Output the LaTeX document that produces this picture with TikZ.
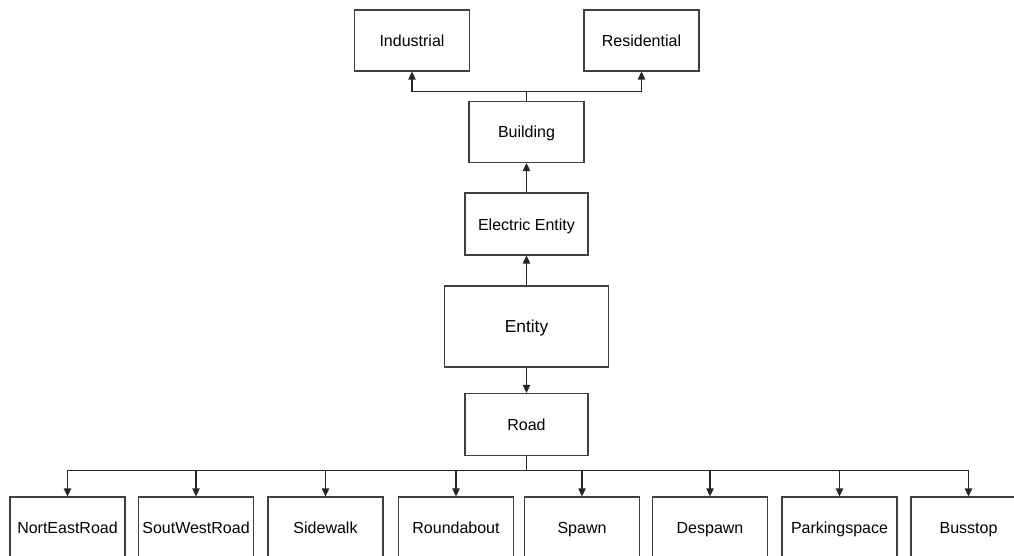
\documentclass[tikz,border=0pt]{standalone}
\usepackage{fontspec}
\setmainfont{Liberation Sans}
\usetikzlibrary{arrows.meta}

\begin{document}
\begin{tikzpicture}[x=0.75pt,y=-0.75pt,
    box/.style={draw=black!75,line width=0.9pt,fill=white,inner sep=0pt,text height=9pt,text depth=0pt,minimum width=86.25pt,minimum height=45.75pt,font=\fontsize{12}{14}\selectfont},
    wide/.style={minimum width=92.25pt,minimum height=46.5pt},
    link/.style={draw=black!85,line width=0.9pt,-{Triangle[length=6pt,width=5.6pt]}}]
    \clip (0,0) rectangle (1014,556);
    \node[box] (ind) at (412,40.5) {Industrial};
    \node[box] (res) at (641.5,40.5) {Residential};
    \node[box] (bld) at (526.5,132) {Building};
    \node[box,wide] (ele) at (526.5,224) {Electric Entity};
    \node[box,minimum width=123pt,minimum height=60.75pt,font=\fontsize{13}{15}\selectfont] (ent) at (526.5,326.5) {Entity};
    \node[box,wide] (road) at (526.5,424.5) {Road};
    \node[box] (ner) at (67.5,527.5) {NortEastRoad};
    \node[box] (swr) at (196,527.5) {SoutWestRoad};
    \node[box] (sw) at (325.5,527.5) {Sidewalk};
    \node[box] (rb) at (456,527.5) {Roundabout};
    \node[box] (sp) at (582,527.5) {Spawn};
    \node[box] (dsp) at (710,527.5) {Despawn};
    \node[box] (park) at (839.5,527.5) {Parkingspace};
    \node[box] (bus) at (968.5,527.5) {Busstop};
    \draw[link] (bld.north) -- ++(0,-9) -| (ind.south);
    \draw[link] (bld.north) -- ++(0,-9) -| (res.south);
    \draw[link] (ele.north) -- (bld.south);
    \draw[link] (ent.north) -- (ele.south);
    \draw[link] (ent.south) -- (road.north);
    \draw[link] (road.south) -- ++(0,14) -| (ner.north);
    \draw[link] (road.south) -- ++(0,14) -| (swr.north);
    \draw[link] (road.south) -- ++(0,14) -| (sw.north);
    \draw[link] (road.south) -- ++(0,14) -| (rb.north);
    \draw[link] (road.south) -- ++(0,14) -| (sp.north);
    \draw[link] (road.south) -- ++(0,14) -| (dsp.north);
    \draw[link] (road.south) -- ++(0,14) -| (park.north);
    \draw[link] (road.south) -- ++(0,14) -| (bus.north);
\end{tikzpicture}
\end{document}
